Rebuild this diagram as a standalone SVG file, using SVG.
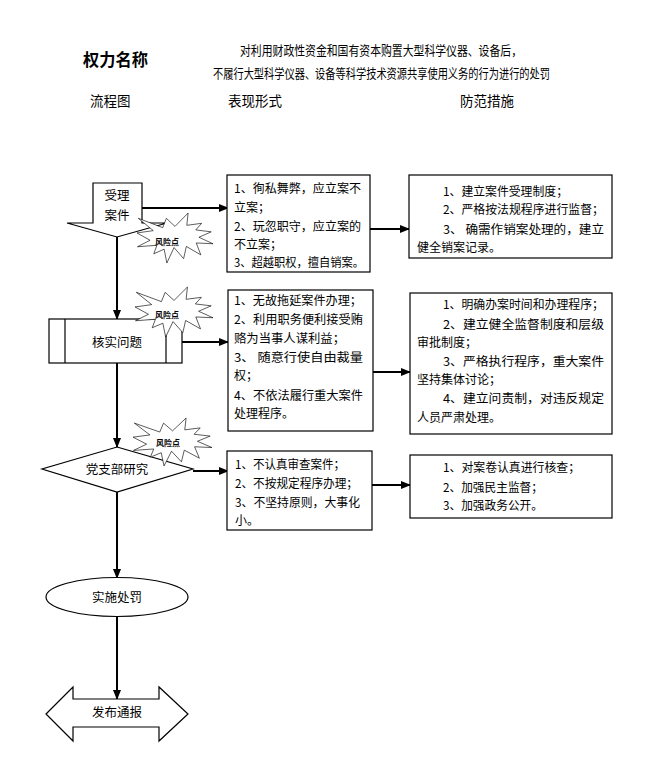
<svg xmlns="http://www.w3.org/2000/svg" width="668" height="767" viewBox="0 0 668 767">
<style>
text{font-family:"Noto Sans CJK SC","Liberation Sans",sans-serif;fill:#000}
.t{font-size:12px}
.c{text-anchor:middle}
.n{font-size:12.5px;text-anchor:middle}
.h{font-size:13.5px}
.s{font-size:8px;text-anchor:middle;font-weight:bold}
.box{fill:#fff;stroke:#000;stroke-width:1.2}
.con{stroke:#000;stroke-width:2;fill:none}
.star{fill:#fff;stroke:#000;stroke-width:1}
</style>
<defs>
<marker id="ah" markerUnits="userSpaceOnUse" markerWidth="10" markerHeight="8" refX="9" refY="4" orient="auto">
<path d="M0,0L10,4L0,8z" fill="#000"/>
</marker>
<polygon id="boom" points="50,26.85 67.23,0 65.53,24.65 85.09,20.63 77.32,33.86 97.67,37.67 81.51,48.5 100,61.53 77.95,59.92 84,83.77 64.91,66.93 61.33,91.37 48.76,69.14 39.28,100 35.72,72.35 22.05,81.56 26.24,64.52 0.63,67.53 17.23,54.51 0,39.88 21.42,35.26 1.71,10.63 33.85,29.26 38.67,10.63"/>
</defs>
<rect width="668" height="767" fill="#fff"/>

<g id="header">
<text x="83" y="66" font-size="16.5" font-weight="bold" textLength="65" lengthAdjust="spacingAndGlyphs">权力名称</text>
<text x="240" y="55" font-size="13" textLength="282" lengthAdjust="spacingAndGlyphs">对利用财政性资金和国有资本购置大型科学仪器、设备后，</text>
<text x="213" y="78" font-size="13" textLength="337" lengthAdjust="spacingAndGlyphs">不履行大型科学仪器、设备等科学技术资源共享使用义务的行为进行的处罚</text>
<text class="h" x="90" y="106">流程图</text>
<text class="h" x="228" y="106">表现形式</text>
<text class="h" x="460" y="106">防范措施</text>
</g>

<g id="connectors">
<line class="con" x1="142" y1="208" x2="228" y2="208" marker-end="url(#ah)"/>
<line class="con" x1="182" y1="342" x2="228" y2="342" marker-end="url(#ah)"/>
<line class="con" x1="193" y1="471" x2="228" y2="471" marker-end="url(#ah)"/>
<line class="con" x1="370" y1="229" x2="409" y2="229" marker-end="url(#ah)"/>
<line class="con" x1="373" y1="372" x2="410" y2="372" marker-end="url(#ah)"/>
<line class="con" x1="372" y1="485" x2="410" y2="485" marker-end="url(#ah)"/>
<line class="con" x1="117" y1="237" x2="117" y2="319" marker-end="url(#ah)"/>
<line class="con" x1="117" y1="363" x2="117" y2="447" marker-end="url(#ah)"/>
<line class="con" x1="117" y1="492" x2="117" y2="578" marker-end="url(#ah)"/>
<line class="con" x1="117" y1="617" x2="117" y2="699" marker-end="url(#ah)"/>
</g>

<g id="node-accept">
<polygon class="box" points="93,183 142,183 142,223 167,223 117,237 67,223 93,223"/>
<text class="n" x="117" y="200">受理</text>
<text class="n" x="117" y="220">案件</text>
</g>

<g id="node-verify">
<rect class="box" x="49" y="319" width="133" height="44"/>
<line x1="65" y1="319" x2="65" y2="363" stroke="#000" stroke-width="1.2"/>
<line x1="166" y1="319" x2="166" y2="363" stroke="#000" stroke-width="1.2"/>
<text class="n" x="117" y="347">核实问题</text>
</g>

<g id="node-party">
<polygon class="box" points="117,447 193,469 117,492 42,469"/>
<text class="n" x="117" y="474">党支部研究</text>
</g>

<g id="node-punish">
<ellipse class="box" cx="117" cy="597" rx="71" ry="19.5"/>
<text class="n" x="117" y="602">实施处罚</text>
</g>

<g id="node-publish">
<polygon class="box" points="46,714 73,687 73,699 159,699 159,687 188,714 159,741 159,727 73,727 73,741"/>
<text class="n" x="117" y="717">发布通报</text>
</g>

<g id="risk1">
<use href="#boom" class="star" vector-effect="non-scaling-stroke" transform="translate(137,213) scale(0.76,0.5)" style="vector-effect:non-scaling-stroke"/>
<text class="s" x="167" y="245">风险点</text>
</g>
<g id="risk2">
<use href="#boom" class="star" transform="translate(135,287) scale(0.78,0.5)" style="vector-effect:non-scaling-stroke"/>
<text class="s" x="167" y="318">风险点</text>
</g>
<g id="risk3">
<use href="#boom" class="star" transform="translate(133,418) scale(0.79,0.48)" style="vector-effect:non-scaling-stroke"/>
<text class="s" x="168" y="446">风险点</text>
</g>

<g id="form1">
<rect class="box" x="227" y="175" width="143" height="97"/>
<text class="t" x="234" y="193" textLength="127" lengthAdjust="spacingAndGlyphs">1、徇私舞弊，应立案不</text>
<text class="t" x="234" y="212">立案；</text>
<text class="t" x="234" y="231" textLength="127" lengthAdjust="spacingAndGlyphs">2、玩忽职守，应立案的</text>
<text class="t" x="234" y="249">不立案；</text>
<text class="t" x="234" y="267" textLength="130" lengthAdjust="spacingAndGlyphs">3、超越职权，擅自销案。</text>
</g>

<g id="measure1">
<rect class="box" x="409" y="175" width="203" height="83"/>
<text class="t" x="443" y="196" textLength="125" lengthAdjust="spacingAndGlyphs">1、建立案件受理制度；</text>
<text class="t" x="443" y="214" textLength="161" lengthAdjust="spacingAndGlyphs">2、严格按法规程序进行监督；</text>
<text class="t" x="443" y="234" textLength="161" lengthAdjust="spacingAndGlyphs">3、 确需作销案处理的，建立</text>
<text class="t" x="417" y="252">健全销案记录。</text>
</g>

<g id="form2">
<rect class="box" x="228" y="290" width="145" height="141"/>
<text class="t" x="234" y="305" textLength="128" lengthAdjust="spacingAndGlyphs">1、无故拖延案件办理；</text>
<text class="t" x="234" y="324" textLength="129" lengthAdjust="spacingAndGlyphs">2、利用职务便利接受贿</text>
<text class="t" x="234" y="343" textLength="111" lengthAdjust="spacingAndGlyphs">赂为当事人谋利益；</text>
<text class="t" x="234" y="362" textLength="129" lengthAdjust="spacingAndGlyphs">3、 随意行使自由裁量</text>
<text class="t" x="234" y="380">权；</text>
<text class="t" x="234" y="400" textLength="129" lengthAdjust="spacingAndGlyphs">4、不依法履行重大案件</text>
<text class="t" x="234" y="418">处理程序。</text>
</g>

<g id="measure2">
<rect class="box" x="410" y="293" width="202" height="141"/>
<text class="t" x="443" y="309" textLength="161" lengthAdjust="spacingAndGlyphs">1、明确办案时间和办理程序；</text>
<text class="t" x="443" y="329" textLength="161" lengthAdjust="spacingAndGlyphs">2、建立健全监督制度和层级</text>
<text class="t" x="417" y="347">审批制度；</text>
<text class="t" x="443" y="366" textLength="161" lengthAdjust="spacingAndGlyphs">3、严格执行程序，重大案件</text>
<text class="t" x="417" y="384">坚持集体讨论；</text>
<text class="t" x="443" y="403" textLength="161" lengthAdjust="spacingAndGlyphs">4、建立问责制，对违反规定</text>
<text class="t" x="417" y="422">人员严肃处理。</text>
</g>

<g id="form3">
<rect class="box" x="227" y="451" width="145" height="79"/>
<text class="t" x="235" y="469" textLength="110" lengthAdjust="spacingAndGlyphs">1、不认真审查案件；</text>
<text class="t" x="235" y="488" textLength="123" lengthAdjust="spacingAndGlyphs">2、不按规定程序办理；</text>
<text class="t" x="235" y="507" textLength="125" lengthAdjust="spacingAndGlyphs">3、不坚持原则，大事化</text>
<text class="t" x="235" y="525">小。</text>
</g>

<g id="measure3">
<rect class="box" x="410" y="455" width="202" height="63"/>
<text class="t" x="443" y="472" textLength="137" lengthAdjust="spacingAndGlyphs">1、对案卷认真进行核查；</text>
<text class="t" x="443" y="492" textLength="100" lengthAdjust="spacingAndGlyphs">2、加强民主监督；</text>
<text class="t" x="443" y="510" textLength="100" lengthAdjust="spacingAndGlyphs">3、加强政务公开。</text>
</g>
</svg>
